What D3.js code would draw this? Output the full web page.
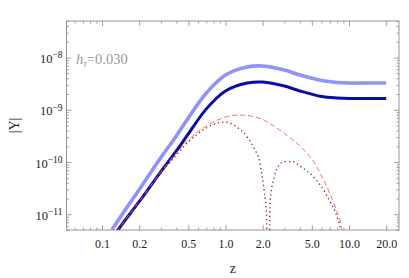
<!DOCTYPE html>
<html>
<head>
<meta charset="utf-8">
<script src="https://cdn.jsdelivr.net/npm/d3@7"></script>
<style>
  html, body { margin: 0; padding: 0; background: #fff; }
</style>
</head>
<body>
<div id="chart"></div>
<script>
// z grid points (x axis) and |Y|
const zLow = [0.12, 0.15, 0.2, 0.3, 0.4, 0.5, 0.7, 1.0, 1.5, 2.0, 3.0, 4.0, 6.0, 8.0, 10, 15, 20];
const yLight = [5.0e-12, 1.10e-11, 2.95e-11, 1.22e-10, 3.16e-10, 6.97e-10, 2.09e-9, 4.62e-9, 6.59e-9, 6.89e-9, 5.77e-9, 4.62e-9, 3.63e-9, 3.33e-9, 3.25e-9, 3.25e-9, 3.25e-9];
const yDark = [3.37e-12, 7.11e-12, 1.74e-11, 6.56e-11, 1.63e-10, 3.44e-10, 1.04e-9, 2.29e-9, 3.25e-9, 3.40e-9, 2.85e-9, 2.29e-9, 1.79e-9, 1.68e-9, 1.64e-9, 1.64e-9, 1.64e-9];

const zDash = [0.12, 0.15, 0.2, 0.3, 0.4, 0.5, 0.7, 1.0, 1.3, 1.6, 2.0, 2.5, 3.0, 3.5, 4.0, 4.5, 5.0, 6.0, 7.0, 8.0, 8.5, 8.7, 8.8];
const yDash = [3.37e-12, 7.11e-12, 1.74e-11, 6.46e-11, 1.48e-10, 2.63e-10, 4.90e-10, 7.24e-10, 7.94e-10, 7.6e-10, 6.52e-10, 4.76e-10, 3.52e-10, 2.64e-10, 2.03e-10, 1.55e-10, 1.15e-10, 5.40e-11, 2.51e-11, 1.11e-11, 7.18e-12, 4.58e-12, 1e-13];

const zDot = [0.12, 0.15, 0.2, 0.3, 0.4, 0.5, 0.7, 0.9, 1.0, 1.2, 1.5, 1.7, 1.9, 2.05, 2.15, 2.21,
              2.24, 2.3, 2.45, 2.6, 3.0, 3.5, 4.0, 5.0, 6.0, 7.0, 8.0, 8.6, 8.75];
const yDot = [3.37e-12, 7.11e-12, 1.74e-11, 6.17e-11, 1.36e-10, 2.42e-10, 4.48e-10, 5.70e-10, 5.83e-10, 4.89e-10, 3.01e-10, 1.85e-10, 9.57e-11, 2.92e-11, 9.55e-12, 1e-13,
              1e-13, 1.88e-11, 4.53e-11, 7.36e-11, 1.02e-10, 1.02e-10, 8.39e-11, 5.62e-11, 3.33e-11, 1.79e-11, 8.91e-12, 4.57e-12, 1e-13];

const xMajor = [0.1, 0.2, 0.5, 1, 2, 5, 10, 20];
const xLabels = ["0.1", "0.2", "0.5", "1.0", "2.0", "5.0", "10.0", "20.0"];
const xMinor = [0.06, 0.07, 0.08, 0.09, 0.3, 0.4, 0.6, 0.7, 0.8, 0.9, 3, 4, 6, 7, 8, 9];
const yMajor = [1e-11, 1e-10, 1e-9, 1e-8];
const yExp = ["−11", "−10", "−9", "−8"];

const W = 409, H = 278;
const mLeft = 66.5, mRight = 399, mTop = 21, mBottom = 230;
const serif = "'Liberation Serif', 'Times New Roman', 'DejaVu Serif', serif";

const svg = d3.select("#chart").append("svg")
    .attr("width", W)
    .attr("height", H)
    .attr("font-family", serif);

const x = d3.scaleLog().domain([0.0516, 25.4]).range([mLeft, mRight]);
const y = d3.scaleLog().domain([5e-12, 5e-8]).range([mBottom, mTop]);

let yMinor = [];
[1e-12, 1e-11, 1e-10, 1e-9, 1e-8].forEach(dec => {
    for (let k = 2; k <= 9; k++) {
        const v = k * dec;
        if (v >= 5e-12 && v <= 5e-8) yMinor.push(v);
    }
});

svg.append("defs").append("clipPath").attr("id", "clip")
    .append("rect")
    .attr("x", mLeft).attr("y", mTop)
    .attr("width", mRight - mLeft).attr("height", mBottom - mTop);

const frameColor = "#8a8a8a";

function styleAxis(sel) {
    sel.attr("font-family", serif).attr("font-size", 12);
    sel.select(".domain").remove();
    sel.selectAll(".tick line").attr("stroke", frameColor).attr("stroke-width", 0.8);
    sel.selectAll(".tick text").attr("fill", "#222");
}

// bottom axis
svg.append("g")
    .attr("transform", `translate(0,${mBottom})`)
    .call(d3.axisBottom(x).tickValues(xMajor).tickSize(-5).tickPadding(9)
        .tickFormat((d, i) => xLabels[i]))
    .call(styleAxis);
svg.append("g")
    .attr("transform", `translate(0,${mBottom})`)
    .call(d3.axisBottom(x).tickValues(xMinor).tickSize(-2.5).tickFormat(""))
    .call(styleAxis);
// top axis
svg.append("g")
    .attr("transform", `translate(0,${mTop})`)
    .call(d3.axisTop(x).tickValues(xMajor).tickSize(-5).tickFormat(""))
    .call(styleAxis);
svg.append("g")
    .attr("transform", `translate(0,${mTop})`)
    .call(d3.axisTop(x).tickValues(xMinor).tickSize(-2.5).tickFormat(""))
    .call(styleAxis);

// left axis
const yAx = svg.append("g")
    .attr("transform", `translate(${mLeft},0)`)
    .call(d3.axisLeft(y).tickValues(yMajor).tickSize(-5).tickFormat(""))
    .call(styleAxis);
yAx.selectAll(".tick").each(function (d, i) {
    const t = d3.select(this).append("text")
        .attr("x", -4)
        .attr("dy", "0.4em")
        .attr("text-anchor", "end")
        .attr("fill", "#222")
        .attr("font-size", 12.5);
    t.append("tspan").text("10");
    t.append("tspan").attr("dy", "-0.5em").attr("font-size", 9.5).text(yExp[i]);
});
svg.append("g")
    .attr("transform", `translate(${mLeft},0)`)
    .call(d3.axisLeft(y).tickValues(yMinor).tickSize(-2.5).tickFormat(""))
    .call(styleAxis);
// right axis
svg.append("g")
    .attr("transform", `translate(${mRight},0)`)
    .call(d3.axisRight(y).tickValues(yMajor).tickSize(-5).tickFormat(""))
    .call(styleAxis);
svg.append("g")
    .attr("transform", `translate(${mRight},0)`)
    .call(d3.axisRight(y).tickValues(yMinor).tickSize(-2.5).tickFormat(""))
    .call(styleAxis);

// frame
svg.append("rect")
    .attr("x", mLeft).attr("y", mTop)
    .attr("width", mRight - mLeft).attr("height", mBottom - mTop)
    .attr("fill", "none")
    .attr("stroke", frameColor)
    .attr("stroke-width", 0.9);

const smooth = d3.line()
    .x(d => x(d[0]))
    .y(d => y(d[1]))
    .curve(d3.curveCatmullRom.alpha(0.5));

const mono = d3.line()
    .x(d => x(d[0]))
    .y(d => y(d[1]))
    .curve(d3.curveMonotoneX);

const plot = svg.append("g").attr("clip-path", "url(#clip)");

plot.append("path")
    .datum(d3.zip(zLow, yLight))
    .attr("d", smooth)
    .attr("fill", "none")
    .attr("stroke", "#9292fa")
    .attr("stroke-width", 3.6);

plot.append("path")
    .datum(d3.zip(zLow, yDark))
    .attr("d", smooth)
    .attr("fill", "none")
    .attr("stroke", "#0a0aa5")
    .attr("stroke-width", 3);

plot.append("path")
    .datum(d3.zip(zDash, yDash))
    .attr("d", mono)
    .attr("fill", "none")
    .attr("stroke", "#ff6a6a")
    .attr("stroke-width", 1)
    .attr("stroke-dasharray", "5,3");

plot.append("path")
    .datum(d3.zip(zDot, yDot))
    .attr("d", mono)
    .attr("fill", "none")
    .attr("stroke", "#8a1c1c")
    .attr("stroke-width", 1.3)
    .attr("stroke-dasharray", "1.3,3");

// labels
svg.append("text")
    .attr("x", (mLeft + mRight) / 2)
    .attr("y", 273)
    .attr("text-anchor", "middle")
    .attr("fill", "#222")
    .attr("font-size", 14)
    .text("z");

svg.append("text")
    .attr("transform", `translate(19,${(mTop + mBottom) / 2}) rotate(-90)`)
    .attr("text-anchor", "middle")
    .attr("fill", "#222")
    .attr("font-size", 14)
    .text("|Y|");

const h = svg.append("text")
    .attr("x", 76)
    .attr("y", 64)
    .attr("fill", "#999")
    .attr("font-size", 14.5);
h.append("tspan").attr("font-style", "italic").text("h");
h.append("tspan").attr("dy", 3).attr("font-size", 10).attr("font-style", "italic").text("τ");
h.append("tspan").attr("dy", -3).text("=0.030");
</script>
</body>
</html>
